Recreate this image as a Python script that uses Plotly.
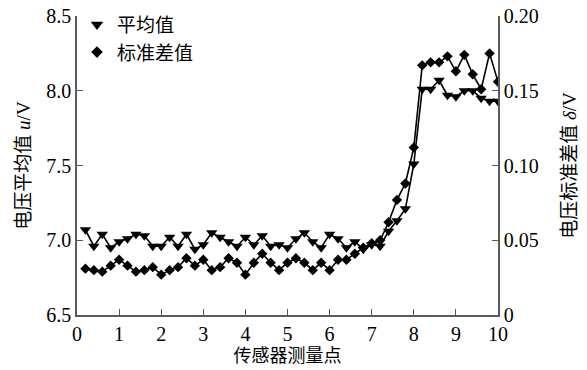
import plotly.graph_objects as go

# Measurement points along the sensor (x), mean voltage u (V) and standard deviation δ (V)
points = [round(0.2 * i, 1) for i in range(1, 51)]

mean_u = [7.07, 6.96, 7.04, 6.95, 6.99, 7.01, 7.04, 7.03, 6.96, 6.96,
          7.02, 6.96, 7.04, 6.94, 6.97, 7.05, 7.02, 6.99, 6.96, 7.02,
          6.97, 7.03, 6.96, 6.97, 6.95, 7.01, 7.05, 6.99, 6.95, 7.04,
          7.01, 6.95, 6.99, 6.94, 6.97, 6.96, 7.06, 7.13, 7.21, 7.51,
          8.01, 8.01, 8.07, 7.97, 7.96, 8.00, 8.00, 7.95, 7.93, 7.93]

std_u = [0.031, 0.030, 0.029, 0.033, 0.037, 0.033, 0.029, 0.030, 0.032, 0.027,
         0.030, 0.032, 0.038, 0.033, 0.037, 0.030, 0.032, 0.038, 0.035, 0.027,
         0.035, 0.041, 0.035, 0.030, 0.035, 0.038, 0.035, 0.030, 0.035, 0.030,
         0.037, 0.037, 0.041, 0.045, 0.048, 0.050, 0.062, 0.077, 0.088, 0.112,
         0.167, 0.169, 0.169, 0.173, 0.163, 0.174, 0.161, 0.151, 0.175, 0.156]

x_ticks = list(range(0, 11))
left_ticks = [6.5, 7.0, 7.5, 8.0, 8.5]
left_labels = ["6.5", "7.0", "7.5", "8.0", "8.5"]
right_ticks = [0, 0.05, 0.10, 0.15, 0.20]
right_labels = ["0", "0.05", "0.10", "0.15", "0.20"]

name_mean = "平均值"
name_std = "标准差值"

SERIF = "Liberation Serif"
TITLE_FONT = dict(family="Liberation Serif, Noto Sans CJK SC", size=19, color="black")
TICK_FONT = dict(family=SERIF, size=20, color="black", style="normal", weight="normal")
AXIS_COLOR = "#5a5a5a"

fig = go.Figure()

fig.add_trace(go.Scatter(
    x=points, y=mean_u, mode="lines+markers", showlegend=False,
    line=dict(color="black", width=1.6),
    marker=dict(symbol="triangle-down", size=10, color="black"),
))
fig.add_trace(go.Scatter(
    x=points, y=std_u, mode="lines+markers", showlegend=False, yaxis="y2",
    line=dict(color="black", width=1.6),
    marker=dict(symbol="diamond", size=8, color="black"),
))

# marker-only legend entries
fig.add_trace(go.Scatter(
    x=[None], y=[None], mode="markers", name=name_mean,
    marker=dict(symbol="triangle-down", size=11, color="black"),
))
fig.add_trace(go.Scatter(
    x=[None], y=[None], mode="markers", name=name_std,
    marker=dict(symbol="diamond", size=9, color="black"),
))

fig.update_layout(
    width=587, height=370,
    margin=dict(l=77, r=89, t=16, b=55, autoexpand=False),
    paper_bgcolor="white", plot_bgcolor="white",
    font=dict(family=SERIF, size=19, color="black"),
    showlegend=True,
    legend=dict(x=0.0, y=0.985, xanchor="left", yanchor="top", yref="container",
                bgcolor="rgba(0,0,0,0)",
                font=dict(family="Liberation Serif, Noto Sans CJK SC", size=19, color="black"),
                itemwidth=30, tracegroupgap=0),
    xaxis=dict(
        range=[0, 10], tickvals=x_ticks, ticktext=[str(v) for v in x_ticks],
        ticks="inside", ticklen=6, tickcolor=AXIS_COLOR, tickwidth=1.2,
        showline=True, linecolor=AXIS_COLOR, linewidth=1.5,
        showgrid=False, zeroline=False,
        tickfont=TICK_FONT,
        title=dict(text="传感器测量点", font=dict(TITLE_FONT, size=18), standoff=6),
    ),
    yaxis=dict(
        range=[6.5, 8.5], tickvals=left_ticks, ticktext=left_labels,
        ticks="inside", ticklen=6, tickcolor=AXIS_COLOR, tickwidth=1.2,
        showline=True, linecolor=AXIS_COLOR, linewidth=1.5,
        showgrid=False, zeroline=False,
        tickfont=TICK_FONT,
        title=dict(text="电压平均值 <i>u</i>/V", font=TITLE_FONT, standoff=11),
    ),
    yaxis2=dict(
        range=[0, 0.2], tickvals=right_ticks, ticktext=right_labels,
        overlaying="y", side="right",
        ticks="inside", ticklen=6, tickcolor=AXIS_COLOR, tickwidth=1.2,
        showline=True, linecolor=AXIS_COLOR, linewidth=1.5,
        showgrid=False, zeroline=False,
        tickfont=TICK_FONT,
        title=dict(text="电压标准差值 <i>δ</i>/V", font=TITLE_FONT, standoff=25),
    ),
)

# make sure the tick numbers are set in the serif face
serif_ticks = (
    "var gd=document.getElementById('{plot_id}');"
    "function serifTicks(){gd.querySelectorAll('g.xtick text, g.ytick text, g.y2tick text')"
    ".forEach(function(t){t.style.fontFamily='\"Liberation Serif\", \"Times New Roman\", serif';});}"
    "serifTicks(); gd.on('plotly_afterplot', serifTicks);"
)

fig.write_html("out.html", post_script=serif_ticks)
